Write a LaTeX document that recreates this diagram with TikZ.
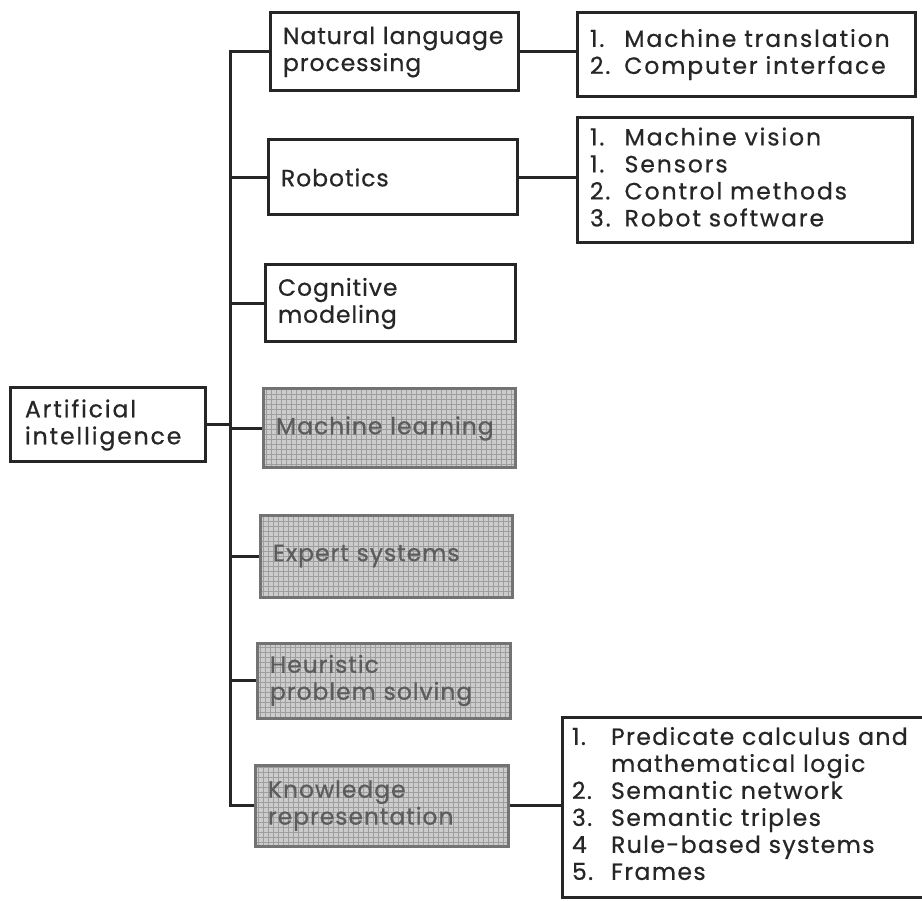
\documentclass[tikz,border=0pt]{standalone}
\usepackage{fontspec}
\setmainfont{Poppins}[FakeBold=0.6, LetterSpace=4]
\newcommand{\boxfont}{\fontsize{23.5}{27}\selectfont}
\newcommand{\widerspacing}[1]{\addfontfeatures{LetterSpace=#1}}
\begin{document}
\begin{tikzpicture}[x=1pt,y=-1pt,
  box/.style={draw=black!85, line width=3pt, rectangle, inner xsep=13pt,
    inner ysep=3pt, align=left, font=\boxfont, text=black!85},
  shaded/.style={box, draw=black!55, text=black!64,
    path picture={
      \fill[black!20] (path picture bounding box.south west) rectangle (path picture bounding box.north east);
      \draw[black!38, line width=0.6pt, step=5pt] (path picture bounding box.south west) grid (path picture bounding box.north east);
    }},
  link/.style={draw=black!85, line width=3pt}
]
\useasboundingbox (0,0) rectangle (922,901);
\fill[white] (0,0) rectangle (922,901);

% root
\node[box, minimum width=195pt, minimum height=74pt, text width=165pt, inner xsep=15pt,
  font=\boxfont\widerspacing{8}] (ai) at (107.5,425) {Artificial\\intelligence};

% branches
\node[box, minimum width=248pt, minimum height=78pt, text width=222pt] (nlp) at (394,52) {Natural language\\processing};
\node[box, minimum width=249pt, minimum height=75pt, text width=223pt] (rob) at (392.5,177.5) {Robotics};
\node[box, minimum width=250pt, minimum height=77pt, text width=224pt] (cog) at (390,303.5) {Cognitive\\modeling};
\node[shaded, minimum width=252pt, minimum height=79pt, text width=226pt] (ml) at (389,428.5) {Machine learning};
\node[shaded, minimum width=252pt, minimum height=82pt, text width=226pt] (exp) at (386,556) {Expert systems};
\node[shaded, minimum width=253pt, minimum height=75pt, text width=227pt] (heu) at (383.5,680.5) {Heuristic\\problem solving};
\node[shaded, minimum width=253pt, minimum height=81pt, text width=227pt] (kr) at (381.5,805.5) {Knowledge\\representation};

% detail lists
\node[box, minimum width=338pt, minimum height=84pt, text width=312pt, font=\boxfont\widerspacing{8}] (r1) at (746,55)
  {\begin{tabular}{@{}l@{\hspace{14pt}}l@{}}1.&Machine translation\\2.&Computer interface\end{tabular}};
\node[box, minimum width=335pt, minimum height=125pt, text width=309pt, font=\boxfont\widerspacing{8}] (r2) at (744.5,180.5)
  {\begin{tabular}{@{}l@{\hspace{14pt}}l@{}}1.&Machine vision\\1.&Sensors\\2.&Control methods\\3.&Robot software\end{tabular}};
\node[box, minimum width=355pt, minimum height=180pt, text width=341pt, inner xsep=10pt, font=\boxfont\widerspacing{6}] (r3) at (742.5,807)
  {\begin{tabular}{@{}l@{\hspace{18pt}}l@{}}1.&Predicate calculus and\\&mathematical logic\\2.&Semantic network\\3.&Semantic triples\\4&Rule-based systems\\5.&Frames\end{tabular}};

% trunk and connectors
\coordinate (trunk) at (230,0);
\draw[link] (nlp.west) -- (nlp.west -| trunk) -- (kr.west -| trunk) -- (kr.west);
\foreach \n in {rob,cog,ml,exp,heu}
  \draw[link] (\n.west) -- (\n.west -| trunk);
\draw[link] (ai.east) -- (ai.east -| trunk);
\draw[link] (nlp.east) -- (nlp.east -| r1.west);
\draw[link] (rob.east) -- (rob.east -| r2.west);
\draw[link] (kr.east) -- (kr.east -| r3.west);
\end{tikzpicture}
\end{document}
